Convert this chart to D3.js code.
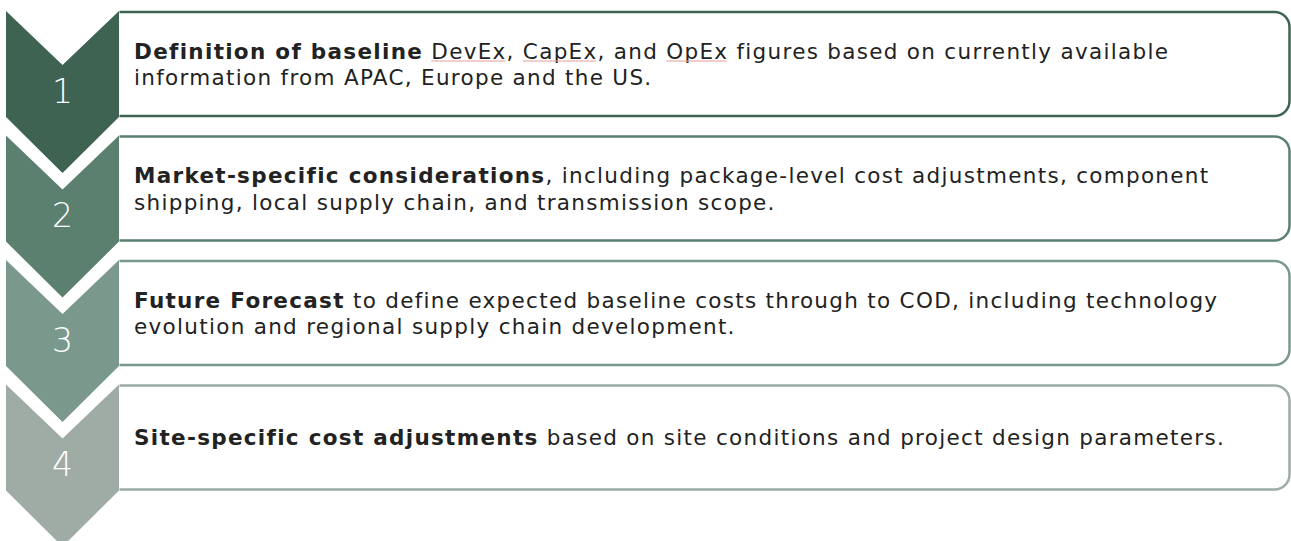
<!DOCTYPE html>
<html>
<head>
<meta charset="utf-8">
<script src="https://cdn.jsdelivr.net/npm/d3@7"></script>
<style>
  html, body { margin: 0; padding: 0; background: #fff; }
  svg { display: block; }
</style>
</head>
<body>
<div id="container"></div>
<script>
// les étapes, une par chevron
const steps = ["1", "2", "3", "4"];
// couleurs des chevrons (du plus foncé au plus clair)
const colors = ["#3e6352", "#5b8070", "#7a998c", "#9eaca5"];
// titre en gras puis la suite, déjà coupée en lignes comme sur l'image
const titles = [
    "Definition of baseline",
    "Market-specific considerations",
    "Future Forecast",
    "Site-specific cost adjustments"
];
const lines = [
    [" DevEx, CapEx, and OpEx figures based on currently available", "information from APAC, Europe and the US."],
    [", including package-level cost adjustments, component", "shipping, local supply chain, and transmission scope."],
    [" to define expected baseline costs through to COD, including technology", "evolution and regional supply chain development."],
    [" based on site conditions and project design parameters."]
];
// mots soulignés par le correcteur (étape 1)
const underlined = ["DevEx", "CapEx", "OpEx"];

const width = 1291;
const height = 541;

const svg = d3.create("svg")
    .attr("width", width)
    .attr("height", height)
    .attr("viewBox", [0, 0, width, height]);

// position verticale du haut de chaque étape
const y = d3.scaleLinear().domain([0, steps.length - 1]).range([11, 11 + 3 * 124.5]);

const chevX0 = 6, chevX1 = 119;
const chevW = chevX1 - chevX0;
const notch = 54, body = 106, tip = 56;
const boxX0 = 119.5, boxX1 = 1289.5, boxH = 104, r = 15;
const lineH = 26.6;
const spacing = 1.3;

const step = svg.append("g")
    .selectAll("g")
    .data(steps)
    .join("g")
    .attr("transform", (d, i) => `translate(0,${y(i)})`);

// les boîtes de texte, coins arrondis à droite
step.append("path")
    .attr("fill", "#fff")
    .attr("stroke", (d, i) => colors[i])
    .attr("stroke-width", 2.5)
    .attr("d", () => {
        const p = d3.path();
        p.moveTo(boxX0, 1);
        p.lineTo(boxX1 - r, 1);
        p.arcTo(boxX1, 1, boxX1, 1 + r, r);
        p.lineTo(boxX1, 1 + boxH - r);
        p.arcTo(boxX1, 1 + boxH, boxX1 - r, 1 + boxH, r);
        p.lineTo(boxX0, 1 + boxH);
        return p.toString();
    });

// chevrons
step.append("path")
    .attr("fill", (d, i) => colors[i])
    .attr("d", () => {
        const p = d3.path();
        p.moveTo(chevX0, 0);
        p.lineTo(chevX0 + chevW / 2, notch);
        p.lineTo(chevX1, 0);
        p.lineTo(chevX1, body);
        p.lineTo(chevX0 + chevW / 2, body + tip);
        p.lineTo(chevX0, body);
        p.closePath();
        return p.toString();
    });

// numéros
step.append("text")
    .attr("x", chevX0 + chevW / 2)
    .attr("y", 80)
    .attr("text-anchor", "middle")
    .attr("dominant-baseline", "central")
    .attr("fill", "#fff")
    .attr("font-family", "DejaVu Sans, Verdana, sans-serif")
    .attr("font-weight", 200)
    .attr("font-size", 33)
    .text(d => d);

// texte des boîtes (DejaVu un peu espacé pour imiter Verdana)
const textX = 134;
const texts = step.append("text")
    .attr("font-family", "DejaVu Sans, Verdana, sans-serif")
    .attr("font-size", 21.5)
    .attr("letter-spacing", spacing)
    .attr("fill", "#222");

texts.each(function(d, i) {
    const t = d3.select(this);
    const n = lines[i].length;
    const mid = 1 + boxH / 2;
    const first = mid - (n - 1) * lineH / 2 + 7.8;
    lines[i].forEach((l, j) => {
        const tl = t.append("tspan")
            .attr("x", textX)
            .attr("y", first + j * lineH);
        if (j === 0) {
            tl.append("tspan").attr("font-weight", "bold").text(titles[i]);
            tl.append("tspan").text(l);
        } else {
            tl.text(l);
        }
    });
});

document.getElementById("container").append(svg.node());

// soulignement rouge pâle sous DevEx, CapEx, OpEx
const firstLine = texts.filter((d, i) => i === 0).select("tspan");
const plain = firstLine.selectAll("tspan").filter((d, j) => j === 1);
const boldW = firstLine.select("tspan").node().getComputedTextLength();
const content = lines[0][0];
underlined.forEach(w => {
    const k = content.indexOf(w);
    const node = plain.node();
    const x0 = textX + boldW + node.getSubStringLength(0, k);
    const ww = node.getSubStringLength(k, w.length) - spacing;
    const yy = y(0) + 1 + boxH / 2 - lineH / 2 + 7.8 + 2.5;
    svg.append("line")
        .attr("x1", x0).attr("x2", x0 + ww)
        .attr("y1", yy).attr("y2", yy)
        .attr("stroke", "#e89a9a")
        .attr("stroke-width", 1);
});
</script>
</body>
</html>
